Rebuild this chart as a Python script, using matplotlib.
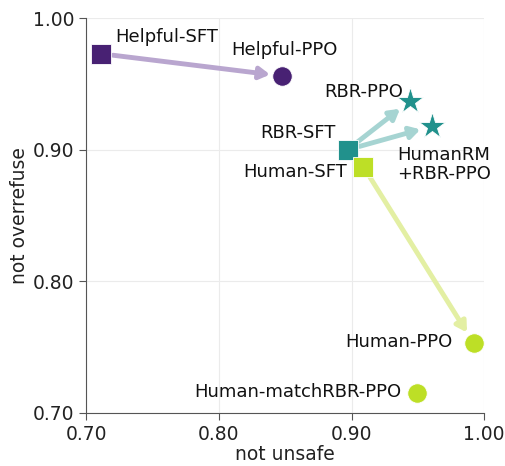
import matplotlib
matplotlib.use("Agg")
import matplotlib.pyplot as plt

names = ["Helpful-SFT", "Helpful-PPO", "RBR-SFT", "RBR-PPO", "HumanRM\n+RBR-PPO",
         "Human-SFT", "Human-PPO", "Human-matchRBR-PPO"]
not_unsafe = [0.711, 0.848, 0.897, 0.944, 0.961, 0.909, 0.992, 0.949]
not_overrefuse = [0.973, 0.956, 0.900, 0.937, 0.918, 0.887, 0.753, 0.715]
markers = ["s", "o", "s", "*", "*", "s", "o", "o"]
colors = ["#482173", "#482173", "#21918c", "#21918c", "#21918c", "#bddf26", "#bddf26", "#bddf26"]
arrows = [(0, 1), (2, 3), (2, 4), (5, 6)]
arrow_colors = ["#b9a6cf", "#a6d4d2", "#a6d4d2", "#e3efa3"]
ticks = [0.70, 0.80, 0.90, 1.00]

fig = plt.figure(figsize=(5.06, 4.66), dpi=100)
ax = fig.add_axes([0.17, 0.114, 0.787, 0.847])
ax.set_xlim(0.70, 1.00)
ax.set_ylim(0.70, 1.00)
ax.set_xticks(ticks)
ax.set_yticks(ticks)
ax.set_xticklabels([f"{t:.2f}" for t in ticks])
ax.set_yticklabels([f"{t:.2f}" for t in ticks])
ax.grid(True, color="#ebebeb", lw=0.8, zorder=0)
for s in ["top", "right"]:
    ax.spines[s].set_visible(False)
for s in ["left", "bottom"]:
    ax.spines[s].set_color("#555555")
ax.tick_params(colors="#555555", labelcolor="#222222", labelsize=13.5, length=5)
ax.set_xlabel("not unsafe", fontsize=13.5, color="#222222", labelpad=1)
ax.set_ylabel("not overrefuse", fontsize=13.5, color="#222222", labelpad=3)

for (a, b), c in zip(arrows, arrow_colors):
    ax.annotate("", xy=(not_unsafe[b], not_overrefuse[b]),
                xytext=(not_unsafe[a], not_overrefuse[a]),
                arrowprops=dict(arrowstyle="-|>,head_length=0.6,head_width=0.35",
                                color=c, lw=3.5, shrinkA=9, shrinkB=9),
                zorder=2)

sizes = {"s": 14.5, "o": 14, "*": 20}
for x, y, m, c in zip(not_unsafe, not_overrefuse, markers, colors):
    ax.plot(x, y, marker=m, color=c, markersize=sizes[m], markeredgecolor="white",
            markeredgewidth=0.6, linestyle="none", zorder=3, clip_on=False)

fs = 13
tc = "#111111"

lab = [
    (0, (15, 17), "left", "center"),
    (1, (2, 26), "center", "center"),
    (2, (-12, 17), "right", "center"),
    (3, (-7, 9), "right", "center"),
    (4, (-35, -20), "left", "top"),
    (5, (-16, -5), "right", "center"),
    (6, (-21, 1), "right", "center"),
    (7, (-15, 1), "right", "center"),
]
for i, (dx, dy), ha, va in lab:
    ax.annotate(names[i], (not_unsafe[i], not_overrefuse[i]), xytext=(dx, dy),
                textcoords="offset pixels", ha=ha, va=va, fontsize=fs, color=tc,
                zorder=4, linespacing=1.1)

fig.savefig("out.png", dpi=100)
